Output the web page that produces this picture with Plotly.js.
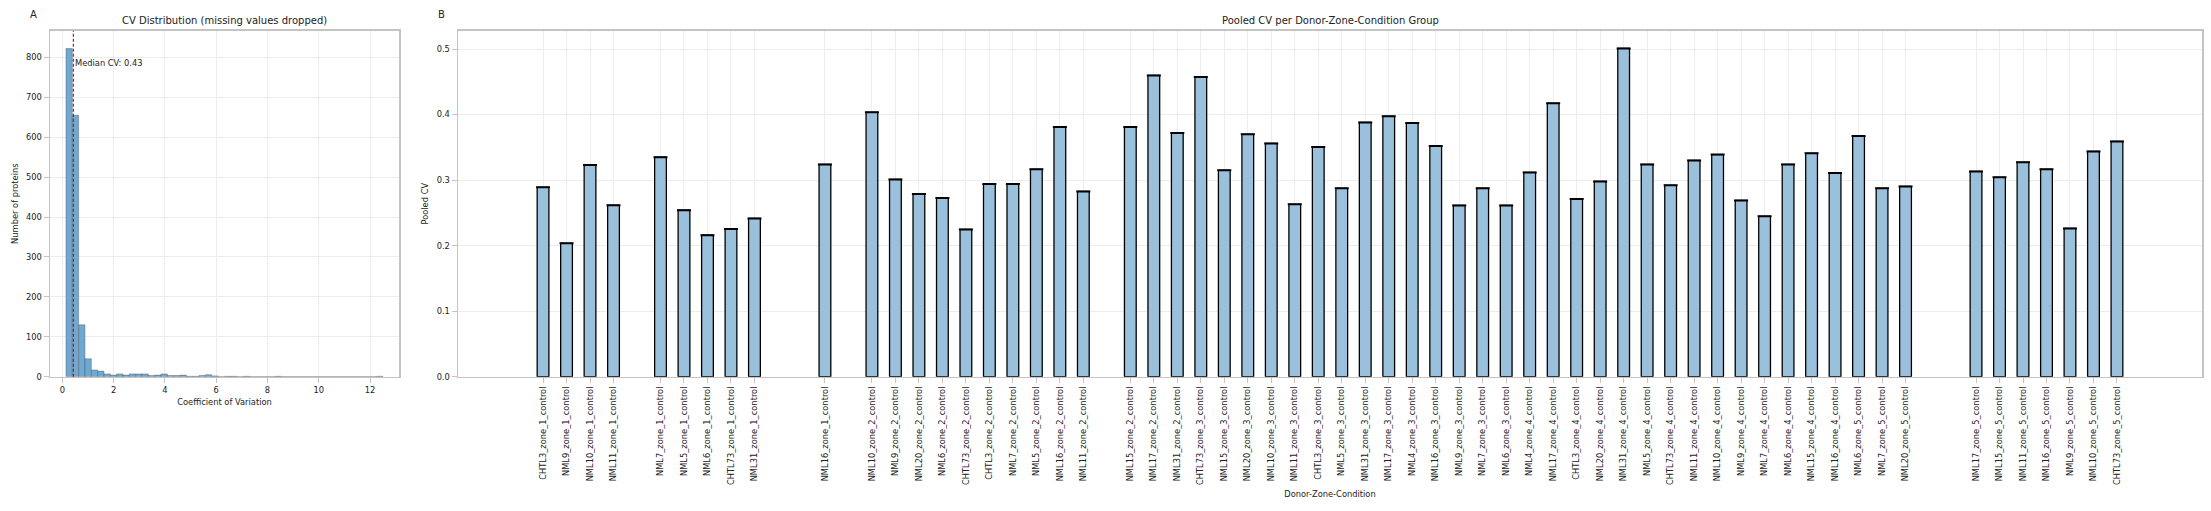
<!DOCTYPE html>
<html><head><meta charset="utf-8">
<script src="https://cdn.plot.ly/plotly-3.0.1.min.js"></script>
<style>html,body{margin:0;padding:0;background:#fff}#chart{width:2211px;height:511px}</style>
</head><body><div id="chart"></div><script>
// ---------- Panel A data: CV histogram ----------
const cvBinStart = 0.143;
const cvBinWidth = 0.2472;
const cvCounts = [822,655,130,45,17,14,7,4,7,4, 7,7,7,3,4,7,3,3,4,1, 1,3,5,2,0,1,1,0,1,0, 0,0,0,1,0,0,0,0,0,0, 0,0,0,0,0,0,0,0,0,1];
const medianCV = 0.43;
const histTicks = [0,2,4,6,8,10,12];

// ---------- Panel B data: pooled CV per group ----------
const groups = [
 "CHTL3_zone_1_control","NML9_zone_1_control","NML10_zone_1_control","NML11_zone_1_control",
 "NML7_zone_1_control","NML5_zone_1_control","NML6_zone_1_control","CHTL73_zone_1_control","NML31_zone_1_control",
 "NML16_zone_1_control",
 "NML10_zone_2_control","NML9_zone_2_control","NML20_zone_2_control","NML6_zone_2_control","CHTL73_zone_2_control",
 "CHTL3_zone_2_control","NML7_zone_2_control","NML5_zone_2_control","NML16_zone_2_control","NML11_zone_2_control",
 "NML15_zone_2_control","NML17_zone_2_control","NML31_zone_2_control",
 "CHTL73_zone_3_control","NML15_zone_3_control","NML20_zone_3_control","NML10_zone_3_control","NML11_zone_3_control",
 "CHTL3_zone_3_control","NML5_zone_3_control","NML31_zone_3_control","NML17_zone_3_control","NML4_zone_3_control",
 "NML16_zone_3_control","NML9_zone_3_control","NML7_zone_3_control","NML6_zone_3_control",
 "NML4_zone_4_control","NML17_zone_4_control","CHTL3_zone_4_control","NML20_zone_4_control","NML31_zone_4_control",
 "NML5_zone_4_control","CHTL73_zone_4_control","NML11_zone_4_control","NML10_zone_4_control","NML9_zone_4_control",
 "NML7_zone_4_control","NML6_zone_4_control","NML15_zone_4_control","NML16_zone_4_control",
 "NML6_zone_5_control","NML7_zone_5_control","NML20_zone_5_control",
 "NML17_zone_5_control","NML15_zone_5_control","NML11_zone_5_control","NML16_zone_5_control","NML9_zone_5_control",
 "NML10_zone_5_control","CHTL73_zone_5_control"
];
const pooledCV = [
 0.289,0.2035,0.323,0.2615,
 0.335,0.254,0.216,0.2253,0.2416,
 0.324,
 0.4034,0.301,0.2787,0.2726,0.2248,
 0.294,0.294,0.3164,0.381,0.2828,
 0.381,0.4598,0.3718,
 0.4573,0.3149,0.3698,0.356,0.263,
 0.3505,0.2874,0.3881,0.3973,0.387,
 0.352,0.2614,0.2874,0.2614,
 0.3118,0.4171,0.2711,0.298,0.501,
 0.324,0.292,0.330,0.339,0.269,
 0.2447,0.324,0.3408,0.3108,
 0.3672,0.2874,0.2904,
 0.3133,0.3042,0.3271,0.3164,0.2263,
 0.3438,0.3591
];

// ---------- layout helpers ----------
const W = 2211, H = 511;
// empty category slots shown after these bar indices
const gapSlotsAfter = {3:1, 8:2, 9:1, 19:1, 53:2};
const categoryOrder = [];
let gapId = 0;
groups.forEach((g, i) => {
  categoryOrder.push(g);
  const n = gapSlotsAfter[i] || 0;
  for (let k = 0; k < n; k++) categoryOrder.push('\u200b'.repeat(++gapId));
});

const FONT = 'DejaVu Sans, sans-serif';
const axisStyle = {
  showline: true, mirror: true, linecolor: '#c4c4c4', linewidth: 1.5,
  showgrid: true, gridcolor: '#ededed', gridwidth: 1,
  ticks: 'outside', ticklen: 5, tickcolor: '#c4c4c4', tickwidth: 1,
  zeroline: false, automargin: false,
  tickfont: {family: FONT, size: 8.3, color: '#222'}
};
const yTop = 1 - 30.7 / H, yBot = 1 - 376.7 / H;

const histTrace = {
  type: 'bar', xaxis: 'x', yaxis: 'y',
  x: cvCounts.map((_, i) => cvBinStart + (i + 0.5) * cvBinWidth),
  y: cvCounts, width: cvBinWidth,
  marker: {color: '#6fa8d0', line: {color: 'rgba(70,70,70,0.45)', width: 0.8}},
  hoverinfo: 'x+y'
};
const barTrace = {
  type: 'bar', xaxis: 'x2', yaxis: 'y2',
  x: groups, y: pooledCV, width: 0.5,
  marker: {color: '#9bc0dc', line: {color: '#000', width: 1.3}},
  error_y: {type: 'constant', value: 0, visible: true, color: '#000', thickness: 2, width: 7}
};

const layout = {
  width: W, height: H,
  margin: {l: 0, r: 0, t: 0, b: 0},
  paper_bgcolor: '#fff', plot_bgcolor: '#fff',
  showlegend: false,
  font: {family: FONT, size: 8.3, color: '#222'},
  xaxis: Object.assign({}, axisStyle, {
    domain: [50 / W, 399 / W], range: [-0.48, 13.13],
    tickmode: 'array', tickvals: histTicks,
    title: {text: 'Coefficient of Variation', font: {family: FONT, size: 8.3, color: '#222'}, standoff: 5}
  }),
  yaxis: Object.assign({}, axisStyle, {
    domain: [yBot, yTop], range: [0, 866.7], dtick: 100, tick0: 0,
    title: {text: 'Number of proteins', font: {family: FONT, size: 8.3, color: '#222'}, standoff: 6}
  }),
  xaxis2: Object.assign({}, axisStyle, {
    anchor: 'y2', domain: [458 / W, 2202 / W], type: 'category',
    categoryorder: 'array', categoryarray: categoryOrder,
    range: [-3.62, categoryOrder.length - 1 + 3.62],
    tickmode: 'array', tickvals: groups, ticktext: groups, tickangle: -90,
    title: {text: 'Donor-Zone-Condition', font: {family: FONT, size: 8.3, color: '#222'}, standoff: 7}
  }),
  yaxis2: Object.assign({}, axisStyle, {
    anchor: 'x2', domain: [yBot, yTop], range: [0, 0.528], dtick: 0.1, tick0: 0, tickformat: '.1f',
    title: {text: 'Pooled CV', font: {family: FONT, size: 8.3, color: '#222'}, standoff: 6}
  }),
  shapes: [{
    type: 'line', xref: 'x', yref: 'paper', x0: medianCV, x1: medianCV, y0: yBot, y1: yTop,
    line: {color: '#a3003a', width: 1.1, dash: '3px,2px'}
  }],
  annotations: [
    {text: 'Median CV: ' + medianCV.toFixed(2), xref: 'x', yref: 'y', x: medianCV, y: 786,
     xanchor: 'left', yanchor: 'middle', showarrow: false, font: {family: FONT, size: 8.3, color: '#222'}},
    {text: 'CV Distribution (missing values dropped)', xref: 'paper', yref: 'paper',
     x: (50 + 399) / 2 / W, y: 1 - 20 / H, xanchor: 'center', yanchor: 'middle', showarrow: false,
     font: {family: FONT, size: 10, color: '#222'}},
    {text: 'Pooled CV per Donor-Zone-Condition Group', xref: 'paper', yref: 'paper',
     x: (458 + 2202) / 2 / W, y: 1 - 20 / H, xanchor: 'center', yanchor: 'middle', showarrow: false,
     font: {family: FONT, size: 10, color: '#222'}},
    {text: 'A', xref: 'paper', yref: 'paper', x: 33 / W, y: 1 - 14 / H, xanchor: 'center', yanchor: 'middle',
     showarrow: false, font: {family: FONT, size: 10, color: '#222'}},
    {text: 'B', xref: 'paper', yref: 'paper', x: 441 / W, y: 1 - 14 / H, xanchor: 'center', yanchor: 'middle',
     showarrow: false, font: {family: FONT, size: 10, color: '#222'}}
  ]
};

Plotly.newPlot('chart', [histTrace, barTrace], layout, {displayModeBar: false, staticPlot: true});
</script></body></html>
